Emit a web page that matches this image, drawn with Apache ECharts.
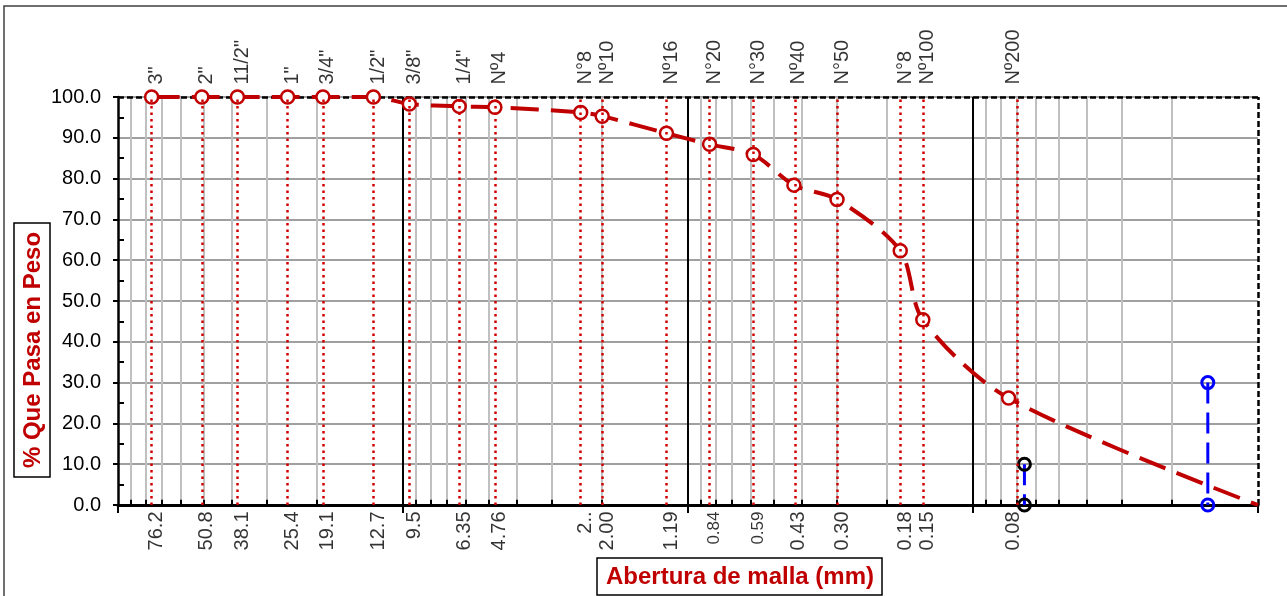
<!DOCTYPE html>
<html><head><meta charset="utf-8">
<script src="https://cdn.jsdelivr.net/npm/echarts@6/dist/echarts.min.js"></script>
<style>html,body{margin:0;padding:0;background:#fff}#c{width:1287px;height:596px}</style>
</head><body><div id="c"></div>
<script>
// ---- data ----
const sieveNames = ['3"','2"','11/2"','1"','3/4"','1/2"','3/8"','1/4"','Nº4','N°8','Nº10','Nº16','N°20','N°30','Nº40','N°50','N°8','Nº100','Nº200'];
const openings = [76.2,50.8,38.1,25.4,19.1,12.7,9.5,6.35,4.76,2.38,2.00,1.19,0.84,0.59,0.425,0.30,0.18,0.15,0.075];
const openingLabels = ['76.2','50.8','38.1','25.4','19.1','12.7','9.5','6.35','4.76','2..','2.00','1.19','0.84','0.59','0.43','0.30','0.18','0.15','0.08'];
const passing = [100,100,100,100,100,100,98.3,97.7,97.5,96.2,95.3,91.1,88.4,85.9,78.4,74.9,62.3,45.4,26.2];
const curveEnd = [0.01, 0];
const blackPoints = [[0.066,10],[0.066,0]];
const bluePoints = [[0.015,30],[0.015,0]];
const decades = [0.01, 0.1, 1, 10];   // decade starts for minor grid
const decadeLines = [10, 1, 0.1];
const xMin = 0.01, xMax = 100;
const yMin = 0, yMax = 100, yStep = 10;

// ---- helpers ----
const FONT = '"Liberation Sans", Arial, sans-serif';
const minorVals = [];
decades.forEach(d => { for (let k = 2; k <= 9; k++) minorVals.push(+(k * d).toPrecision(3)); });

const gridLines = minorVals.map(v => ({ xAxis: v, lineStyle: { color: '#C0C0C0', width: 2, type: 'solid' } }));
const blackLines = decadeLines.map(v => ({ xAxis: v, lineStyle: { color: '#000', width: 2, type: 'solid' } }));
blackLines.push({ xAxis: xMin, lineStyle: { color: '#000', width: 2.5, type: [6, 3] } });
blackLines.push({ yAxis: yMax, lineStyle: { color: '#000', width: 2.5, type: [6, 3] } });
const minorTicks = minorVals.map(v => [
  { coord: [v, 0], lineStyle: { color: '#000', width: 2, type: 'solid' } },
  { coord: [v, 1.3] }
]);

const curveData = openings.map((s, i) => [s, passing[i]]);
curveData.push({ value: curveEnd, symbol: 'none' });

const chart = echarts.init(document.getElementById('c'), null, { renderer: 'canvas' });
chart.setOption({
  animation: false,
  backgroundColor: '#fff',
  grid: { left: 118, right: 29, top: 97, bottom: 91, containLabel: false },
  xAxis: {
    type: 'log', logBase: 10, min: xMin, max: xMax, inverse: true,
    axisLine: { show: true, lineStyle: { color: '#000', width: 3 } },
    axisTick: { show: true, length: 8, lineStyle: { color: '#000', width: 2 } },
    axisLabel: { show: false },
    splitLine: { show: false }
  },
  yAxis: [{
    type: 'value', min: yMin, max: yMax, interval: yStep,
    axisLine: { show: true, lineStyle: { color: '#000', width: 2.5 } },
    axisTick: { show: true, length: 5, lineStyle: { color: '#000', width: 2 } },
    axisLabel: { formatter: v => v.toFixed(1), fontSize: 20, color: '#000', fontFamily: FONT, margin: 17 },
    splitLine: { show: true, lineStyle: { color: '#A0A0A0', width: 2 } }
  }, {
    type: 'value', min: yMin, max: yMax, interval: yStep, position: 'left',
    axisLine: { show: false },
    axisTick: { show: false, inside: true },
    minorTick: { show: true, splitNumber: 2, length: 6, lineStyle: { color: '#000', width: 2 } },
    axisLabel: { show: false },
    splitLine: { show: false }
  }],
  series: [
    { // grid helper
      type: 'line', data: [[1, 50]], symbol: 'none', lineStyle: { opacity: 0 }, silent: true, z: 1,
      markLine: {
        silent: true, symbol: 'none', z: 1, label: { show: false }, animation: false,
        data: gridLines.concat(blackLines).concat(minorTicks)
      }
    },
    { // main curve
      type: 'line', data: curveData, smooth: 0.3, z: 3,
      symbol: 'circle', symbolSize: 13,
      itemStyle: { color: '#fff', borderColor: '#C00000', borderWidth: 2.5 },
      lineStyle: { color: '#C00000', width: 4, type: [28, 12] },
      markLine: {
        silent: true, symbol: 'none', z: 5, label: { show: false }, animation: false,
        lineStyle: { color: '#D00000', width: 2.5, type: [2.5, 4], cap: 'butt' },
        data: openings.map(s => ({ xAxis: s }))
      }
    },
    { // black points
      type: 'line', data: blackPoints, z: 4,
      symbol: 'circle', symbolSize: 12,
      itemStyle: { color: 'rgba(0,0,0,0)', borderColor: '#000', borderWidth: 3 },
      lineStyle: { color: '#0000FF', width: 3, type: [21, 9] }
    },
    { // blue points
      type: 'line', data: bluePoints, z: 4,
      symbol: 'circle', symbolSize: 12,
      itemStyle: { color: 'rgba(0,0,0,0)', borderColor: '#0000FF', borderWidth: 3 },
      lineStyle: { color: '#0000FF', width: 3, type: [21, 9] }
    },
    { // top sieve names
      type: 'scatter', symbolSize: 1, itemStyle: { color: 'rgba(0,0,0,0)' }, silent: true, z: 6,
      data: openings.map((s, i) => ({ value: [s, yMax], name: sieveNames[i] })),
      label: { show: true, formatter: '{b}', position: 'top', distance: 12, rotate: 90, offset: [0, 5],
               align: 'left', verticalAlign: 'middle', fontSize: 20, color: '#000', fontFamily: FONT }
    },
    { // bottom opening labels
      type: 'scatter', symbolSize: 1, itemStyle: { color: 'rgba(0,0,0,0)' }, silent: true, z: 6,
      data: openings.map((s, i) => ({
        value: [s, yMin], name: openingLabels[i],
        label: { fontSize: (openingLabels[i] === '0.84' || openingLabels[i] === '0.59') ? 17 : 20 }
      })),
      label: { show: true, formatter: '{b}', position: 'bottom', distance: 6, rotate: 90, offset: [0, 5],
               align: 'right', verticalAlign: 'middle', fontSize: 20, color: '#000', fontFamily: FONT }
    }
  ],
  graphic: [
    { type: 'rect', shape: { x: 4, y: 6, width: 1300, height: 620 }, style: { fill: 'none', stroke: '#404040', lineWidth: 1.5 }, silent: true, z: -1 },
    { type: 'rect', shape: { x: 14, y: 223, width: 36, height: 254 }, style: { fill: '#fff', stroke: '#000', lineWidth: 1.5 }, silent: true },
    { type: 'text', x: 33, y: 350, rotation: Math.PI / 2,
      style: { text: '% Que Pasa en Peso', fill: '#C00000', font: 'bold 24px ' + FONT, align: 'center', verticalAlign: 'middle' }, silent: true },
    { type: 'rect', shape: { x: 597, y: 558, width: 285, height: 37 }, style: { fill: '#fff', stroke: '#000', lineWidth: 1.5 }, silent: true },
    { type: 'text', x: 740, y: 577,
      style: { text: 'Abertura de malla (mm)', fill: '#C00000', font: 'bold 24px ' + FONT, align: 'center', verticalAlign: 'middle' }, silent: true }
  ]
});
</script>
</body></html>
